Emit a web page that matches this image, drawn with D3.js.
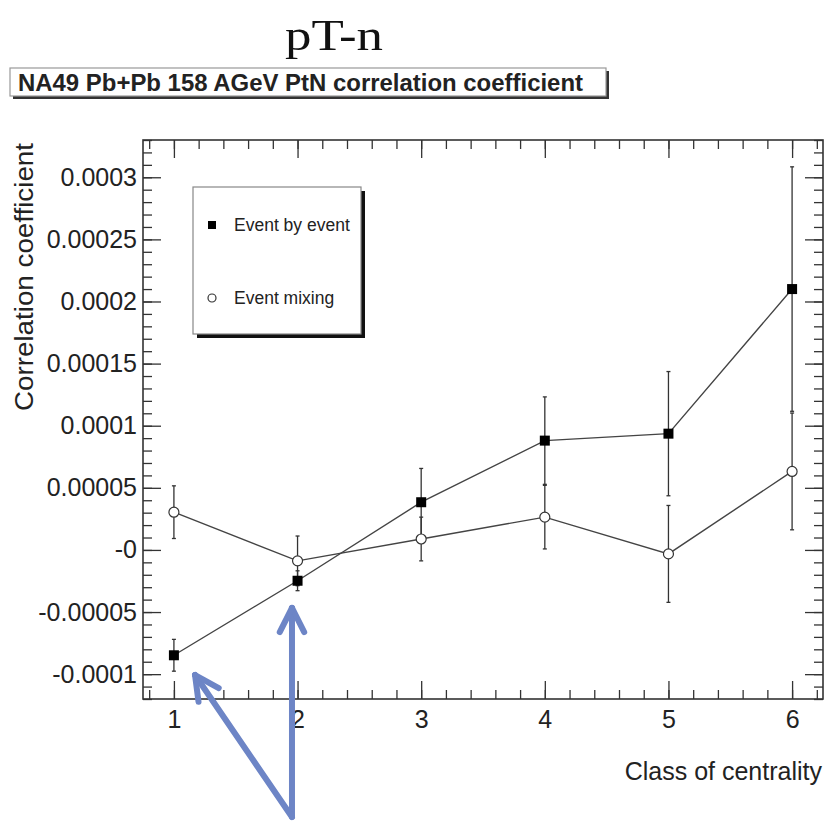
<!DOCTYPE html>
<html>
<head>
<meta charset="utf-8">
<script src="https://cdn.jsdelivr.net/npm/d3@7"></script>
<style>
  body { margin: 0; background: #fff; }
  text { font-family: "Liberation Sans", Arial, Helvetica, sans-serif; fill: #222; }
</style>
</head>
<body>
<div id="chart"></div>
<script>
// centrality classes
var classes = [1, 2, 3, 4, 5, 6];

// Event by event (filled squares)
var ebeValues = [-0.0000848, -0.0000248, 0.0000384, 0.000088, 0.0000936, 0.00021];
var ebeErrors = [0.0000128, 0.000008, 0.0000272, 0.0000352, 0.00005, 0.0000984];

// Event mixing (open circles)
var mixValues = [0.0000304, -0.0000088, 0.0000088, 0.0000264, -0.0000032, 0.0000632];
var mixErrors = [0.0000212, 0.00002, 0.0000176, 0.0000256, 0.000039, 0.000047];

// axis ticks
var xTickValues = [1, 2, 3, 4, 5, 6];
var yTickValues = [0.0003, 0.00025, 0.0002, 0.00015, 0.0001, 0.00005, 0, -0.00005, -0.0001];
var yTickLabels = ["0.0003", "0.00025", "0.0002", "0.00015", "0.0001", "0.00005", "-0", "-0.00005", "-0.0001"];

// blue annotation arrows, in data units [class, value]
var arrowFrom = [[1.955, -0.000215], [1.955, -0.000215]];
var arrowTo = [[1.955, -0.0000467], [1.171, -0.0001007]];

const W = 825, H = 821;
const frame = {left: 143, right: 823, top: 140, bottom: 699};

var svg = d3.select("#chart")
  .append("svg")
  .attr("width", W)
  .attr("height", H);

var x = d3.scaleLinear().domain([0.75, 6.25]).range([frame.left, frame.right]);
var y = d3.scaleLinear().domain([-0.00012, 0.00033]).range([frame.bottom, frame.top]);

// big serif heading
svg.append("text")
  .attr("x", 285)
  .attr("y", 50)
  .attr("textLength", 98)
  .attr("lengthAdjust", "spacingAndGlyphs")
  .style("font-family", "'Liberation Serif', 'DejaVu Serif', serif")
  .style("font-size", "44px")
  .style("fill", "#111")
  .text("pT-n");

// title box (ROOT style, with shadow)
svg.append("rect")
  .attr("x", 13).attr("y", 71)
  .attr("width", 596).attr("height", 28)
  .attr("fill", "#333");
svg.append("rect")
  .attr("x", 10).attr("y", 68)
  .attr("width", 596).attr("height", 28)
  .attr("fill", "#fff")
  .attr("stroke", "#999")
  .attr("stroke-width", 1.2);
svg.append("text")
  .attr("x", 18)
  .attr("y", 91)
  .attr("textLength", 565)
  .attr("lengthAdjust", "spacingAndGlyphs")
  .style("font-size", "23px")
  .style("font-weight", "bold")
  .text("NA49 Pb+Pb 158 AGeV PtN correlation coefficient");

// minor tick positions
var yMinor = d3.range(-12, 34).map(i => i * 1e-5);
var xMinor = d3.range(4, 32).map(i => i * 0.2);

function tickAxis(axis, vals, size) {
  return axis.tickValues(vals).tickSize(size).tickFormat("");
}

var gAxes = svg.append("g");

gAxes.append("g")
  .attr("transform", "translate(" + frame.left + ",0)")
  .call(tickAxis(d3.axisLeft(y), yMinor, -9));
gAxes.append("g")
  .attr("transform", "translate(" + frame.right + ",0)")
  .call(tickAxis(d3.axisRight(y), yMinor, -9));
gAxes.append("g")
  .attr("transform", "translate(" + frame.right + ",0)")
  .call(tickAxis(d3.axisRight(y), yTickValues, -18));
gAxes.append("g")
  .attr("transform", "translate(0," + frame.bottom + ")")
  .call(tickAxis(d3.axisBottom(x), xMinor, -9));
gAxes.append("g")
  .attr("transform", "translate(0," + frame.top + ")")
  .call(tickAxis(d3.axisTop(x), xMinor, -9));
gAxes.append("g")
  .attr("transform", "translate(0," + frame.top + ")")
  .call(tickAxis(d3.axisTop(x), xTickValues, -18));

// labelled axes
var yAxis = d3.axisLeft(y)
  .tickValues(yTickValues)
  .tickSize(-18)
  .tickPadding(6)
  .tickFormat((d, i) => yTickLabels[i]);
gAxes.append("g")
  .attr("class", "yaxis")
  .attr("transform", "translate(" + frame.left + ",0)")
  .call(yAxis);

var xAxis = d3.axisBottom(x)
  .tickValues(xTickValues)
  .tickSize(-18)
  .tickPadding(11)
  .tickFormat(d3.format("d"));
gAxes.append("g")
  .attr("class", "xaxis")
  .attr("transform", "translate(0," + frame.bottom + ")")
  .call(xAxis);

gAxes.selectAll(".domain").remove();
gAxes.selectAll(".tick line").attr("stroke", "#333").attr("stroke-width", 1.3);
gAxes.selectAll(".tick text")
  .style("font-family", "'Liberation Sans', Arial, sans-serif")
  .style("font-size", "25px")
  .attr("fill", "#222");

// frame
svg.append("rect")
  .attr("x", frame.left).attr("y", frame.top)
  .attr("width", frame.right - frame.left)
  .attr("height", frame.bottom - frame.top)
  .attr("fill", "none")
  .attr("stroke", "#333")
  .attr("stroke-width", 1.6);

// axis titles
svg.append("text")
  .attr("transform", "translate(33,277) rotate(-90)")
  .attr("text-anchor", "middle")
  .attr("textLength", 268)
  .attr("lengthAdjust", "spacingAndGlyphs")
  .style("font-size", "25px")
  .text("Correlation coefficient");

svg.append("text")
  .attr("x", 822)
  .attr("y", 780)
  .attr("text-anchor", "end")
  .style("font-size", "25px")
  .text("Class of centrality");

// series
var ebe = classes.map((c, i) => ({x: c, v: ebeValues[i], e: ebeErrors[i]}));
var mix = classes.map((c, i) => ({x: c, v: mixValues[i], e: mixErrors[i]}));

var line = d3.line()
  .x(d => x(d.x))
  .y(d => y(d.v));

function drawErrors(data) {
  var g = svg.append("g")
    .attr("stroke", "#333")
    .attr("stroke-width", 1.3);
  g.selectAll(".ebar")
    .data(data)
    .enter()
    .append("line")
    .attr("x1", d => x(d.x)).attr("x2", d => x(d.x))
    .attr("y1", d => y(d.v - d.e)).attr("y2", d => y(d.v + d.e));
  g.selectAll(".capLo")
    .data(data)
    .enter()
    .append("line")
    .attr("x1", d => x(d.x) - 2).attr("x2", d => x(d.x) + 2)
    .attr("y1", d => y(d.v - d.e)).attr("y2", d => y(d.v - d.e));
  g.selectAll(".capHi")
    .data(data)
    .enter()
    .append("line")
    .attr("x1", d => x(d.x) - 2).attr("x2", d => x(d.x) + 2)
    .attr("y1", d => y(d.v + d.e)).attr("y2", d => y(d.v + d.e));
}

drawErrors(mix);
drawErrors(ebe);

svg.append("path")
  .datum(mix)
  .attr("d", line)
  .attr("fill", "none")
  .attr("stroke", "#444")
  .attr("stroke-width", 1.4);

svg.append("path")
  .datum(ebe)
  .attr("d", line)
  .attr("fill", "none")
  .attr("stroke", "#444")
  .attr("stroke-width", 1.4);

svg.selectAll(".mixpt")
  .data(mix)
  .enter()
  .append("circle")
  .attr("cx", d => x(d.x))
  .attr("cy", d => y(d.v))
  .attr("r", 5)
  .attr("fill", "#fff")
  .attr("stroke", "#333")
  .attr("stroke-width", 1.2);

svg.selectAll(".ebept")
  .data(ebe)
  .enter()
  .append("rect")
  .attr("x", d => x(d.x) - 5)
  .attr("y", d => y(d.v) - 5)
  .attr("width", 10)
  .attr("height", 10)
  .attr("fill", "#000");

// legend
svg.append("rect")
  .attr("x", 197).attr("y", 191)
  .attr("width", 168).attr("height", 147)
  .attr("fill", "#111");
svg.append("rect")
  .attr("x", 193).attr("y", 187)
  .attr("width", 168).attr("height", 147)
  .attr("fill", "#fff")
  .attr("stroke", "#888")
  .attr("stroke-width", 1.2);
svg.append("rect")
  .attr("x", 208).attr("y", 221)
  .attr("width", 8).attr("height", 8)
  .attr("fill", "#000");
svg.append("text")
  .attr("x", 234).attr("y", 231)
  .style("font-size", "17.5px")
  .text("Event by event");
svg.append("circle")
  .attr("cx", 212).attr("cy", 298)
  .attr("r", 4)
  .attr("fill", "#fff")
  .attr("stroke", "#333")
  .attr("stroke-width", 1.2);
svg.append("text")
  .attr("x", 234).attr("y", 304)
  .style("font-size", "17.5px")
  .text("Event mixing");

// annotation arrows
var arrowColor = "#6d85c6";
var ga = svg.append("g")
  .attr("stroke", arrowColor)
  .attr("stroke-width", 6)
  .attr("stroke-linecap", "round")
  .attr("fill", "none");

arrowTo.forEach(function(t, i) {
  var f = arrowFrom[i];
  var x0 = x(f[0]), y0 = y(f[1]), x1 = x(t[0]), y1 = y(t[1]);
  ga.append("line")
    .attr("x1", x0).attr("y1", y0)
    .attr("x2", x1).attr("y2", y1);
  var ang = Math.atan2(y0 - y1, x0 - x1);
  [-0.47, 0.47].forEach(function(da) {
    ga.append("line")
      .attr("x1", x1).attr("y1", y1)
      .attr("x2", x1 + 27 * Math.cos(ang + da))
      .attr("y2", y1 + 27 * Math.sin(ang + da));
  });
});
</script>
</body>
</html>
